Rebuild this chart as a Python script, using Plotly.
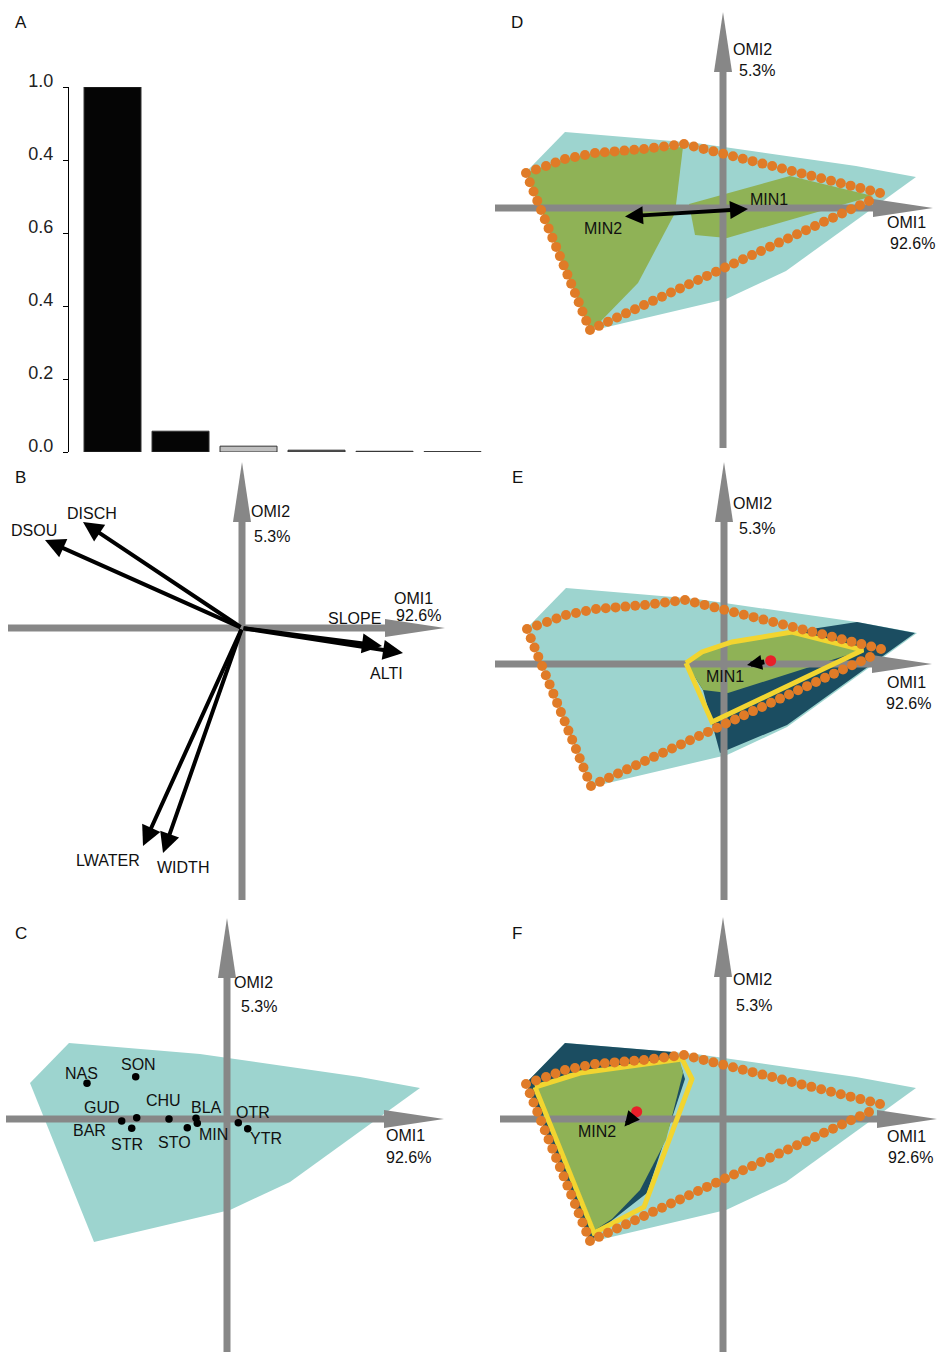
import math
import plotly.graph_objects as go

# ---------------- data ----------------
# Panel A: eigenvalues (relative)
eig_axes = [1, 2, 3, 4, 5, 6]
eig_values = [1.0, 0.057, 0.016, 0.005, 0.002, 0.001]
eig_colors = ["#050505", "#050505", "#bfbfbf", "#5a5a5a", "#333333", "#333333"]
tick_vals = [1.0, 0.8, 0.6, 0.4, 0.2, 0.0]
tick_text = ["1.0", "0.4", "0.6", "0.4", "0.2", "0.0"]

# Panel B: variable canonical weights (OMI1, OMI2)
var_names = ["DISCH", "DSOU", "SLOPE", "ALTI", "LWATER", "WIDTH"]
var_x = [-1.59, -1.97, 1.40, 1.61, -0.99, -0.79]
var_y = [1.06, 0.88, -0.18, -0.25, -2.18, -2.25]
var_lab_x = [-1.50, -2.08, 1.12, 1.44, -1.34, -0.59]
var_lab_y = [1.15, 0.98, 0.10, -0.45, -2.32, -2.39]

# Panel C: species positions
sp_names = ["NAS", "SON", "GUD", "BAR", "STR", "CHU", "BLA", "MIN", "STO", "OTR", "YTR"]
sp_x = [-1.40, -0.913, -0.903, -1.053, -0.953, -0.58, -0.31, -0.297, -0.397, 0.113, 0.207]
sp_y = [0.357, 0.423, 0.013, -0.02, -0.093, 0.0, 0.007, -0.043, -0.087, -0.037, -0.097]
sp_lab_x = [-1.46, -0.89, -1.25, -1.38, -1.00, -0.64, -0.21, -0.14, -0.53, 0.255, 0.39]
sp_lab_y = [0.46, 0.545, 0.115, -0.11, -0.255, 0.19, 0.115, -0.15, -0.235, 0.07, -0.19]

# environmental space (all sampling units)
env_x = [-1.58, -1.97, -1.33, 0.03, 0.63, 1.93, 1.33, -0.27]
env_y = [0.76, 0.36, -1.23, -0.91, -0.63, 0.31, 0.42, 0.65]

# MIN realized niche
niche_x = [-1.97, -1.77, -1.58, -1.28, -0.79, -0.39, 1.57, 1.46, -1.33]
niche_y = [0.35, 0.42, 0.49, 0.55, 0.59, 0.64, 0.15, 0.07, -1.22]

# MIN sub-niches (panel D)
sub2_x = [-1.97, -1.77, -1.58, -1.28, -0.79, -0.40, -0.48, -0.85, -1.23, -1.33]
sub2_y = [0.35, 0.42, 0.49, 0.55, 0.59, 0.61, -0.05, -0.75, -1.14, -1.22]
sub1_x = [-0.34, 0.67, 1.50, 0.04, -0.28]
sub1_y = [0.04, 0.32, 0.12, -0.30, -0.27]

# panel E: subset K1
k1_x = [-0.36, 0.08, 0.68, 1.33, 1.91, 0.63, -0.04, -0.21]
k1_y = [-0.02, 0.22, 0.32, 0.42, 0.31, -0.61, -0.89, -0.26]
k1_sub_x = [-0.38, -0.22, 0.08, 0.68, 1.39, 0.04, -0.21]
k1_sub_y = [0.01, 0.12, 0.22, 0.32, 0.14, -0.29, -0.26]
k1_niche_x = [-0.38, -0.22, 0.08, 0.68, 1.39, -0.12]
k1_niche_y = [0.01, 0.12, 0.22, 0.32, 0.14, -0.58]

# panel F: subset K2
k2_x = [-1.58, -1.97, -1.33, -1.13, -0.76, -0.38, -0.41, -0.50]
k2_y = [0.76, 0.36, -1.23, -1.03, -0.74, 0.40, 0.50, 0.67]
k2_sub_x = [-1.86, -1.53, -0.43, -0.40, -0.57, -0.83, -1.11, -1.28]
k2_sub_y = [0.31, 0.46, 0.58, 0.46, -0.21, -0.71, -1.00, -1.11]
k2_niche_x = [-1.88, -1.43, -0.41, -0.31, -0.79, -1.29]
k2_niche_y = [0.32, 0.46, 0.60, 0.40, -0.88, -1.14]

# species / subset origins
min1_xy = (0.25, -0.01)
min2_xy = (-0.995, -0.085)
gk1_xy = (0.467, 0.033)
gk2_xy = (-0.863, 0.073)

# ---------------- styles ----------------
W, H = 937, 1352
S = 100.0
FONT = "Liberation Sans, Arial, Helvetica, sans-serif"
GRAY = "#878787"
CYAN = "#9dd4cf"
GREEN = "#8fb256"
DARK = "#1b4d61"
ORANGE = "#e07b27"
YELLOW = "#f2d530"
RED = "#e8202a"
TXT = "#111111"
LAB = 16

panels = {
    "B": dict(n=2, box=(0, 468, 460, 905), origin=(242, 628), h=(8, 445), v=(900, 462)),
    "C": dict(n=3, box=(0, 468, 910, 1352), origin=(227, 1119), h=(6, 444), v=(1352, 918)),
    "D": dict(n=4, box=(490, 937, 0, 455), origin=(723, 208), h=(495, 933), v=(448, 12)),
    "E": dict(n=5, box=(490, 937, 460, 905), origin=(724, 664), h=(495, 932), v=(900, 462)),
    "F": dict(n=6, box=(490, 937, 910, 1352), origin=(723, 1119), h=(500, 937), v=(1352, 917)),
}

fig = go.Figure()
annotations = []


def refs(n):
    return "x%d" % n, "y%d" % n


def add_poly(n, xs, ys, color):
    xr, yr = refs(n)
    fig.add_trace(go.Scatter(x=list(xs) + [xs[0]], y=list(ys) + [ys[0]], mode="lines",
                             fill="toself", fillcolor=color, line=dict(width=0),
                             hoverinfo="skip", showlegend=False, xaxis=xr, yaxis=yr))


def add_outline(n, xs, ys, color, width):
    xr, yr = refs(n)
    fig.add_trace(go.Scatter(x=list(xs) + [xs[0]], y=list(ys) + [ys[0]], mode="lines",
                             line=dict(color=color, width=width), hoverinfo="skip",
                             showlegend=False, xaxis=xr, yaxis=yr))


def add_beads(n, xs, ys, step=0.10):
    # dotted-outline style for the polygon
    pts = list(zip(xs, ys)) + [(xs[0], ys[0])]
    bx, by = [], []
    for (x0, y0), (x1, y1) in zip(pts[:-1], pts[1:]):
        L = math.hypot(x1 - x0, y1 - y0)
        k = max(1, round(L / step))
        for i in range(k):
            t = i / k
            bx.append(x0 + t * (x1 - x0))
            by.append(y0 + t * (y1 - y0))
    xr, yr = refs(n)
    fig.add_trace(go.Scatter(x=bx, y=by, mode="markers",
                             marker=dict(size=10, color=ORANGE, line=dict(width=0)),
                             hoverinfo="skip", showlegend=False, xaxis=xr, yaxis=yr))


def add_gray_axes(p):
    n = p["n"]
    xr, yr = refs(n)
    ox, oy = p["origin"]
    hx0, hx1 = (p["h"][0] - ox) / S, (p["h"][1] - ox) / S
    vy0, vy1 = (oy - p["v"][0]) / S, (oy - p["v"][1]) / S
    hl, hw = 0.60, 0.09
    fig.add_trace(go.Scatter(x=[hx0, hx1 - hl + 0.05], y=[0, 0], mode="lines",
                             line=dict(color=GRAY, width=7), hoverinfo="skip",
                             showlegend=False, xaxis=xr, yaxis=yr))
    fig.add_trace(go.Scatter(x=[hx1 - hl, hx1, hx1 - hl, hx1 - hl], y=[hw, 0, -hw, hw],
                             mode="lines", fill="toself", fillcolor=GRAY, line=dict(width=0),
                             hoverinfo="skip", showlegend=False, xaxis=xr, yaxis=yr))
    fig.add_trace(go.Scatter(x=[0, 0], y=[vy0, vy1 - hl + 0.05], mode="lines",
                             line=dict(color=GRAY, width=7), hoverinfo="skip",
                             showlegend=False, xaxis=xr, yaxis=yr))
    fig.add_trace(go.Scatter(x=[-hw, 0, hw, -hw], y=[vy1 - hl, vy1, vy1 - hl, vy1 - hl],
                             mode="lines", fill="toself", fillcolor=GRAY, line=dict(width=0),
                             hoverinfo="skip", showlegend=False, xaxis=xr, yaxis=yr))


def label(n, x, y, text, size=LAB, xanchor="center"):
    xr, yr = refs(n)
    annotations.append(dict(x=x, y=y, xref=xr, yref=yr, text=text, showarrow=False,
                            xanchor=xanchor, yanchor="middle",
                            font=dict(family=FONT, size=size, color=TXT)))


def arrow(n, x0, y0, x1, y1, width=4, size=0.85, both=False, start_off=0):
    xr, yr = refs(n)
    annotations.append(dict(x=x1, y=y1, ax=x0, ay=y0, xref=xr, yref=yr, axref=xr, ayref=yr,
                            text="", showarrow=True, arrowhead=2, arrowsize=size,
                            arrowwidth=width, arrowcolor="#000000", standoff=0,
                            startstandoff=start_off, arrowside="end+start" if both else "end",
                            startarrowhead=2, startarrowsize=size))


def red_dot(n, xy):
    xr, yr = refs(n)
    fig.add_trace(go.Scatter(x=[xy[0]], y=[xy[1]], mode="markers",
                             marker=dict(size=11, color=RED), hoverinfo="skip",
                             showlegend=False, xaxis=xr, yaxis=yr))


def omi_labels(n, o2, p2, o1, p1):
    label(n, o2[0], o2[1], "OMI2")
    label(n, p2[0], p2[1], "5.3%")
    label(n, o1[0], o1[1], "OMI1")
    label(n, p1[0], p1[1], "92.6%")


# ---------------- panel A ----------------
fig.add_trace(go.Bar(x=list(range(len(eig_values))), y=eig_values, width=0.838,
                     marker=dict(color=eig_colors, line=dict(color="#333333", width=1)),
                     hoverinfo="skip", showlegend=False, xaxis="x", yaxis="y"))

# ---------------- panel B ----------------
add_gray_axes(panels["B"])
for nm, x, y, lx, ly in zip(var_names, var_x, var_y, var_lab_x, var_lab_y):
    arrow(2, 0, 0, x, y, width=4, size=1.0)
    label(2, lx, ly, nm)
omi_labels(2, (0.28, 1.17), (0.30, 0.92), (1.71, 0.295), (1.76, 0.125))

# ---------------- panel C ----------------
add_poly(3, env_x, env_y, CYAN)
add_gray_axes(panels["C"])
fig.add_trace(go.Scatter(x=sp_x, y=sp_y, mode="markers",
                         marker=dict(size=7.5, color="#000000"), hoverinfo="skip",
                         showlegend=False, xaxis="x3", yaxis="y3"))
for nm, lx, ly in zip(sp_names, sp_lab_x, sp_lab_y):
    label(3, lx, ly, nm)
omi_labels(3, (0.26, 1.37), (0.32, 1.13), (1.78, -0.165), (1.81, -0.38))

# ---------------- panel D ----------------
add_poly(4, env_x, env_y, CYAN)
add_poly(4, sub2_x, sub2_y, GREEN)
add_poly(4, sub1_x, sub1_y, GREEN)
add_gray_axes(panels["D"])
add_beads(4, niche_x, niche_y)
arrow(4, min2_xy[0], min2_xy[1], min1_xy[0], min1_xy[1], width=4, size=0.9, both=True)
label(4, 0.463, 0.087, "MIN1")
label(4, -1.203, -0.203, "MIN2")
omi_labels(4, (0.295, 1.587), (0.337, 1.372), (1.83, -0.14), (1.89, -0.357))

# ---------------- panel E ----------------
add_poly(5, env_x, env_y, CYAN)
add_poly(5, k1_x, k1_y, DARK)
add_poly(5, k1_sub_x, k1_sub_y, GREEN)
add_gray_axes(panels["E"])
add_outline(5, k1_niche_x, k1_niche_y, YELLOW, 5)
add_beads(5, niche_x, niche_y)
red_dot(5, gk1_xy)
arrow(5, gk1_xy[0], gk1_xy[1], min1_xy[0] - 0.02, min1_xy[1], width=5, size=0.6, start_off=5)
label(5, 0.01, -0.12, "MIN1")
omi_labels(5, (0.285, 1.61), (0.327, 1.352), (1.82, -0.18), (1.847, -0.393))

# ---------------- panel F ----------------
add_poly(6, env_x, env_y, CYAN)
add_poly(6, k2_x, k2_y, DARK)
add_poly(6, k2_sub_x, k2_sub_y, GREEN)
add_gray_axes(panels["F"])
add_outline(6, k2_niche_x, k2_niche_y, YELLOW, 5)
add_beads(6, niche_x, niche_y)
red_dot(6, gk2_xy)
arrow(6, gk2_xy[0], gk2_xy[1], min2_xy[0] + 0.01, min2_xy[1] + 0.01, width=5, size=0.6, start_off=5)
label(6, -1.257, -0.127, "MIN2")
omi_labels(6, (0.295, 1.397), (0.312, 1.14), (1.83, -0.173), (1.875, -0.38))

# ---------------- panel letters ----------------
for txt, px, py in [("A", 21, 23), ("B", 20, 478), ("C", 21, 933),
                    ("D", 517, 23), ("E", 517, 478), ("F", 517, 933)]:
    annotations.append(dict(x=px / W, y=1 - py / H, xref="paper", yref="paper", text=txt,
                            showarrow=False, xanchor="center", yanchor="middle",
                            font=dict(family=FONT, size=17, color=TXT)))

# ---------------- layout ----------------
layout = dict(width=W, height=H,
              margin=dict(l=0, r=0, t=0, b=0, pad=0, autoexpand=False),
              autosize=False, title=None,
              paper_bgcolor="white", plot_bgcolor="rgba(0,0,0,0)", showlegend=False,
              annotations=annotations, bargap=0.162)

layout["xaxis"] = dict(domain=[69 / W, 490 / W], range=[-0.64, 5.551], visible=False,
                       fixedrange=True, automargin=False)
layout["yaxis"] = dict(domain=[1 - 452 / H, 1 - 87 / H], range=[0, 1], showline=True,
                       linecolor="#000000", linewidth=1, ticks="outside", ticklen=5,
                       tickcolor="#000000", tickwidth=1, tickvals=tick_vals,
                       ticktext=tick_text, showgrid=False, zeroline=False,
                       tickfont=dict(family=FONT, size=18, color="#222222"),
                       ticklabelshift=-6, ticklabelstandoff=6, fixedrange=True,
                       automargin=False)

for key, p in panels.items():
    n = p["n"]
    x0, x1, y0, y1 = p["box"]
    ox, oy = p["origin"]
    layout["xaxis%d" % n] = dict(domain=[x0 / W, x1 / W], range=[(x0 - ox) / S, (x1 - ox) / S],
                                 visible=False, fixedrange=True, anchor="y%d" % n,
                                 automargin=False)
    layout["yaxis%d" % n] = dict(domain=[1 - y1 / H, 1 - y0 / H], range=[(oy - y1) / S, (oy - y0) / S],
                                 visible=False, fixedrange=True, anchor="x%d" % n,
                                 automargin=False)

fig.update_layout(**layout)

page_fix = (
    "var h=document.documentElement,b=document.body;"
    "h.style.margin='0';h.style.padding='0';h.style.overflow='hidden';"
    "b.style.margin='0';b.style.padding='0';b.style.overflow='hidden';"
)

fig.write_html("out.html", config={"displayModeBar": False}, post_script=page_fix)
